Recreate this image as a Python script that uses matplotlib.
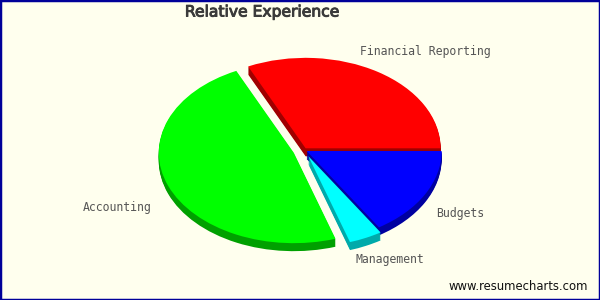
import matplotlib.pyplot as plt
import matplotlib.patheffects as pe
from matplotlib.patches import Rectangle

# slice data, drawn clockwise from 3 o'clock
labels = ["Budgets", "Management", "Accounting", "Financial Reporting"]
values = [16, 4, 48, 32]
top_colors = ["#0000FF", "#00FFFF", "#00FF00", "#FF0000"]
side_colors = ["#0000A0", "#00AAAA", "#00A000", "#A00000"]
explode = [3, 10, 11, 3]

# label positions in pixels (left x, centre y)
label_pos = {"Financial Reporting": (360, 51), "Accounting": (83, 207),
             "Budgets": (436, 213), "Management": (356, 260)}

W, H = 600, 300
squash = 0.67          # vertical/horizontal ratio of the tilted pie
cx, cy = 304, 150      # pie centre in pixels
radius = 135
depth = 8

fig = plt.figure(figsize=(6, 3), dpi=100)
fig.patch.set_facecolor("#FFFFEE")
ax = fig.add_axes([0, 0, 1, 1])
ax.set_facecolor("#FFFFEE")

cy_data = (H - cy) / squash
step = 1 / squash
# side walls: stacked layers below the top face
for k in range(depth, 0, -1):
    ax.pie(values, colors=side_colors, startangle=0, counterclock=False,
           explode=explode, radius=radius, center=(cx, cy_data - k * step),
           wedgeprops=dict(linewidth=0))
ax.pie(values, colors=top_colors, startangle=0, counterclock=False,
       explode=explode, radius=radius, center=(cx, cy_data),
       wedgeprops=dict(linewidth=0))

ax.set_xlim(0, W)
ax.set_ylim(0, H / squash)
ax.set_aspect("auto")
ax.axis("off")

for name in labels:
    x, y = label_pos[name]
    fig.text(x / W, 1 - y / H, name, family="DejaVu Sans Mono", size=8.3,
             color="#555555", ha="left", va="center")

fig.text(262 / W, 1 - 12 / H, "Relative Experience", size=11.2,
         color="#3a3a3a", ha="center", va="center",
         path_effects=[pe.withStroke(linewidth=0.7, foreground="#3a3a3a")])
fig.text(588 / W, 1 - 286 / H, "www.resumecharts.com", size=8.4,
         color="#111111", ha="right", va="center")

fig.patches.append(Rectangle((0, 0), 1, 1, transform=fig.transFigure,
                             fill=False, edgecolor="#000099", linewidth=2.5))

fig.savefig("out.png", dpi=100, facecolor=fig.get_facecolor())
